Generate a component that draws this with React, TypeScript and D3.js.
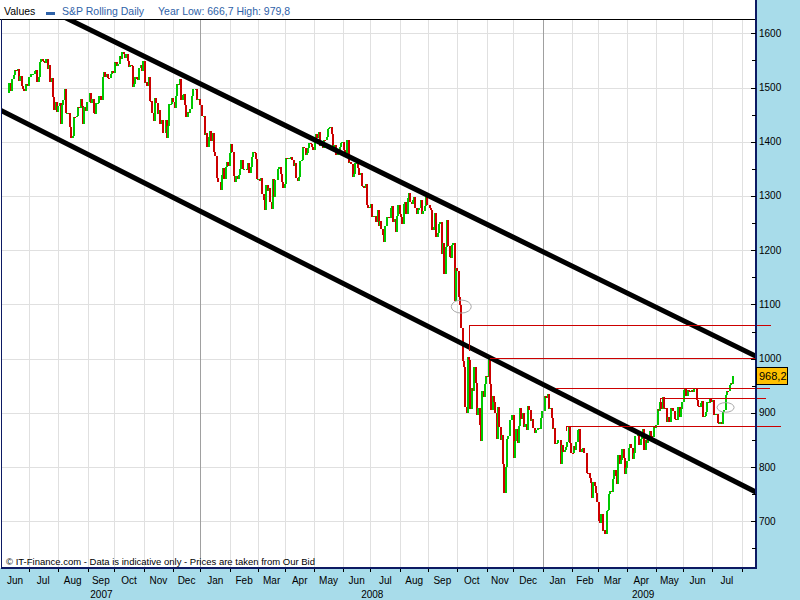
import React from 'react';
import * as d3 from 'd3';

// ---------- data ----------
const axisStart = '2007-06-01';
const axisEnd = '2009-09-30';
const firstClose = '2007-06-07';
const holidays = ['2007-07-04', '2007-09-03', '2007-11-22', '2007-12-25', '2008-01-01', '2008-01-21', '2008-02-18', '2008-03-21', '2008-05-26', '2008-07-04', '2008-09-01', '2008-11-27', '2008-12-25', '2009-01-01', '2009-01-19', '2009-02-16', '2009-04-10', '2009-05-25', '2009-07-03'];

const closes2007 = [
  1490.72, 1507.67, 1509.12, 1493.0, 1515.67, 1522.97, 1532.91, 1531.05, 1533.7, 1512.84, 1522.19, 1502.56, 1497.74, 1492.89, 1506.34, 1505.71, 1503.35,
  1519.43, 1524.87, 1525.4, 1530.44, 1531.85, 1510.12, 1518.76, 1547.7, 1552.5, 1549.52, 1549.37, 1546.17, 1553.08, 1534.1, 1541.57, 1511.04, 1518.09, 1482.66, 1458.95, 1473.91, 1455.27,
  1465.81, 1472.2, 1433.06, 1467.67, 1476.71, 1497.49, 1453.09, 1453.64, 1452.92, 1426.54, 1406.7, 1411.27, 1445.94, 1445.55, 1447.12, 1464.07, 1462.5, 1479.37, 1466.79, 1432.36, 1463.76, 1457.64, 1473.99,
  1489.42, 1472.29, 1478.55, 1453.55, 1451.7, 1471.49, 1471.56, 1483.95, 1484.25, 1476.65, 1519.78, 1529.03, 1518.75, 1525.75, 1517.73, 1517.21, 1525.42, 1531.38, 1526.75,
  1547.04, 1546.63, 1539.59, 1542.84, 1557.59, 1552.58, 1565.15, 1562.47, 1554.41, 1561.8, 1548.71, 1538.53, 1541.24, 1540.08, 1500.63, 1506.33, 1519.59, 1515.88, 1514.4, 1535.28, 1540.98, 1531.02, 1549.38,
  1508.44, 1509.65, 1502.17, 1520.27, 1475.62, 1474.77, 1453.7, 1439.18, 1481.05, 1470.58, 1451.15, 1458.74, 1433.27, 1439.7, 1416.77, 1440.7, 1407.22, 1428.23, 1469.02, 1469.72, 1481.14,
  1472.42, 1462.79, 1485.01, 1507.34, 1504.66, 1515.96, 1477.65, 1486.59, 1488.41, 1467.95, 1445.9, 1454.98, 1453.0, 1460.12, 1484.46, 1496.45, 1497.66, 1476.27, 1478.49, 1468.36,
];

const closes2008 = [
  1447.16, 1447.16, 1411.63, 1416.18, 1390.19, 1409.13, 1420.33, 1401.02, 1416.25, 1380.95, 1373.2, 1333.25, 1325.19, 1310.5, 1338.6, 1352.07, 1330.61, 1353.96, 1362.3, 1355.81, 1378.55,
  1395.42, 1380.82, 1336.64, 1326.45, 1336.91, 1331.29, 1339.13, 1348.86, 1367.21, 1348.86, 1349.99, 1348.78, 1360.03, 1342.53, 1353.11, 1371.8, 1381.29, 1380.02, 1367.68, 1330.63,
  1331.34, 1326.75, 1333.7, 1304.34, 1293.37, 1273.37, 1320.65, 1308.77, 1315.48, 1288.14, 1276.6, 1330.74, 1298.42, 1329.51, 1349.88, 1352.99, 1341.13, 1325.76, 1315.22, 1322.7,
  1370.18, 1367.53, 1369.31, 1370.4, 1372.54, 1365.54, 1354.49, 1360.55, 1332.83, 1328.32, 1334.43, 1364.71, 1365.56, 1390.33, 1388.17, 1375.94, 1379.93, 1388.82, 1397.84, 1396.37, 1390.94, 1385.59,
  1409.34, 1413.9, 1407.49, 1418.26, 1392.57, 1397.68, 1388.28, 1403.58, 1403.04, 1408.66, 1423.57, 1425.35, 1426.63, 1413.4, 1390.71, 1394.35, 1375.93, 1385.35, 1390.84, 1398.26, 1400.38,
  1385.67, 1377.65, 1377.2, 1404.05, 1360.68, 1361.76, 1358.44, 1335.49, 1339.87, 1360.03, 1360.14, 1350.93, 1337.81, 1342.83, 1317.93, 1318.0, 1314.29, 1321.97, 1283.15, 1278.38, 1280.0,
  1284.91, 1261.52, 1262.9, 1252.31, 1273.7, 1244.69, 1253.39, 1239.49, 1228.3, 1214.91, 1245.36, 1260.32, 1260.68, 1260.0, 1277.0, 1282.19, 1252.54, 1257.76, 1234.37, 1263.2, 1284.26, 1267.38,
  1260.31, 1249.01, 1284.88, 1289.19, 1266.07, 1296.32, 1305.32, 1289.59, 1285.83, 1292.93, 1298.2, 1278.6, 1266.69, 1274.54, 1277.72, 1292.2, 1266.84, 1271.51, 1281.66, 1300.68, 1282.83,
  1277.58, 1274.98, 1236.83, 1242.31, 1267.79, 1224.51, 1232.04, 1249.05, 1251.7, 1192.7, 1213.6, 1156.39, 1206.51, 1255.08, 1207.09, 1188.22, 1185.87, 1209.18, 1213.27, 1106.42, 1166.36,
  1161.06, 1114.28, 1099.23, 1056.89, 996.23, 984.94, 909.92, 899.22, 1003.35, 998.01, 907.84, 946.43, 940.55, 985.4, 955.05, 896.78, 908.11, 876.77, 848.92, 940.51, 930.09, 954.09, 968.75,
  966.3, 1005.75, 952.77, 904.88, 930.99, 919.21, 898.95, 852.3, 911.29, 873.29, 850.75, 859.12, 806.58, 752.44, 800.03, 851.81, 857.39, 887.68, 896.24,
  816.21, 848.81, 870.74, 845.22, 876.07, 909.7, 888.67, 899.24, 873.59, 879.73, 868.57, 913.18, 904.42, 885.28, 887.88, 871.63, 863.16, 868.15, 872.8, 869.42, 890.64, 903.25,
];

const closes2009 = [
  931.8, 927.45, 934.7, 906.65, 909.73, 890.35, 870.26, 871.79, 842.62, 843.74, 850.12, 805.22, 840.24, 827.5, 831.95, 836.57, 845.71, 874.09, 845.14, 825.88,
  825.44, 838.51, 832.23, 845.85, 868.6, 869.89, 827.16, 833.74, 835.19, 826.84, 789.17, 788.42, 778.94, 770.05, 743.33, 773.14, 764.9, 752.83, 735.09,
  700.82, 696.33, 712.87, 682.55, 683.38, 676.53, 719.6, 721.36, 750.74, 756.55, 753.89, 778.12, 794.35, 784.04, 768.54, 822.92, 806.12, 813.88, 832.86, 815.94, 787.53, 797.87,
  811.08, 834.38, 842.5, 835.48, 815.55, 825.16, 856.56, 858.73, 841.5, 852.06, 865.3, 869.6, 832.39, 850.08, 843.55, 851.92, 866.23, 857.51, 855.16, 873.64, 872.81,
  877.52, 907.24, 903.8, 919.53, 907.39, 929.23, 909.24, 908.35, 883.92, 893.07, 882.88, 909.71, 908.13, 903.47, 888.33, 887.0, 910.33, 893.06, 906.83, 919.14,
  942.87, 944.74, 931.76, 942.46, 940.09, 939.14, 942.43, 939.15, 944.89, 946.21, 923.72, 911.97, 910.71, 918.37, 921.23, 893.04, 895.1, 900.94, 920.26, 918.9, 927.23, 919.32,
  923.33, 896.42, 898.72, 881.03, 879.56, 882.68, 879.13, 901.05, 905.84, 932.68, 940.74, 940.38, 951.13, 954.58, 954.07, 968.2,
];

const yTicks = [700, 800, 900, 1000, 1100, 1200, 1300, 1400, 1500, 1600];
const yMinorTicks = [650, 750, 850, 950, 1050, 1150, 1250, 1350, 1450, 1550];
const monthNames = ['Jan', 'Feb', 'Mar', 'Apr', 'May', 'Jun', 'Jul', 'Aug', 'Sep', 'Oct', 'Nov', 'Dec'];

const upperChannel: [string, number][] = [['2007-07-02', 1661.3], ['2009-08-17', 1004.8]];
const lowerChannel: [string, number][] = [['2007-06-01', 1456.7], ['2009-08-17', 754]];
const levelStarts = ['2008-10-14', '2008-11-04', '2009-01-14', '2009-05-06', '2009-01-26'];
const levelEnds = ['2009-09-02', '2009-08-17', '2009-09-01', '2009-08-27', '2009-09-11'];
const levelValues = [1062, 1002, 945, 927, 875];
const levelStubs = [1016, 1002, 945, 921, 868];
const markerDates = ['2008-10-06', '2009-07-15'];
const markerValues = [1096, 910];
const markerRadii: [number, number][] = [[10, 6.5], [8.5, 4.8]];
const yearLow = 666.7;
const yearHigh = 979.8;

// ---------- layout ----------
const W = 800;
const H = 600;
const PL = 1;
const PR = 756;
const PT = 19;
const PB = 567;
const BG = '#a8dcea';
const NAVY = '#0c1a63';
const FONT = "'Liberation Sans', Arial, sans-serif";

const parse = d3.utcParse('%Y-%m-%d');
const fmtKey = d3.utcFormat('%Y-%m-%d');
const weekdays = d3.utcDay
  .range(parse(axisStart)!, d3.utcDay.offset(parse(axisEnd)!, 1))
  .filter((d) => d.getUTCDay() !== 0 && d.getUTCDay() !== 6);
const dayIndex = new Map(weekdays.map((d, i) => [fmtKey(d), i]));
const holidaySet = new Set(holidays);

const allCloses = [...closes2007, ...closes2008, ...closes2009];
const series: { i: number; open: number; close: number }[] = [];
{
  let k = 0;
  let prev = NaN;
  for (let i = dayIndex.get(firstClose)!; i < weekdays.length && k < allCloses.length; i++) {
    if (holidaySet.has(fmtKey(weekdays[i]))) continue;
    const c = allCloses[k++];
    if (!isNaN(prev)) series.push({ i, open: prev, close: c });
    prev = c;
  }
}

const x = d3.scaleLinear().domain([0, 577]).range([2, 757]);
const y = d3.scaleLinear().domain([615.7, 1626.4]).range([PB, PT]);
const xd = (s: string) => x(dayIndex.get(s)!);

// month boundaries
const monthStarts: { i: number; m: number; yr: number }[] = [];
weekdays.forEach((d, i) => {
  if (i === 0 || d.getUTCMonth() !== weekdays[i - 1].getUTCMonth()) {
    monthStarts.push({ i, m: d.getUTCMonth(), yr: d.getUTCFullYear() });
  }
});
const domainEnd = x.domain()[1];
const monthLabels = monthStarts
  .map((ms, k) => ({ ...ms, end: k + 1 < monthStarts.length ? monthStarts[k + 1].i : weekdays.length }))
  .filter((ms) => ms.end <= domainEnd);
const years = Array.from(new Set(monthLabels.map((m) => m.yr)));

const tickX = (i: number) => Math.round(x(i) - 0.65) + 0.5;
const commaFmt = d3.formatLocale({ decimal: ',', thousands: '.', grouping: [3], currency: ['', ''] }).format('.1f');

const line = d3
  .line<[string, number]>()
  .x((d) => xd(d[0]))
  .y((d) => y(d[1]));

export default function App() {
  const last = series[series.length - 1];
  return (
    <svg width={W} height={H} style={{ position: 'absolute', left: 0, top: 0 }} fontFamily={FONT}>
      <defs>
        <clipPath id="plotClip">
          <rect x={PL} y={PT} width={PR - PL} height={PB - PT} />
        </clipPath>
      </defs>
      <rect x={0} y={0} width={W} height={H} fill={BG} />
      <rect x={0} y={0} width={PR} height={PB + 1} fill="#fff" />

      {/* horizontal grid */}
      {yTicks.map((t) => (
        <line key={'hg' + t} x1={PL} x2={PR} y1={Math.round(y(t)) + 0.5} y2={Math.round(y(t)) + 0.5} stroke="#e0e0e0" />
      ))}
      {/* vertical grid */}
      {monthStarts
        .filter((m) => m.i > 0 && x(m.i) < PR)
        .map((m) => (
          <line key={'vg' + m.i} x1={tickX(m.i)} x2={tickX(m.i)} y1={PT} y2={PB} stroke={m.m === 0 ? '#a0a0a0' : '#e0e0e0'} />
        ))}

      {/* bars */}
      <g clipPath="url(#plotClip)" shapeRendering="crispEdges">
        {series.map((d) => {
          const hi = Math.max(d.open, d.close);
          const lo = Math.min(d.open, d.close);
          const y0 = y(hi);
          const h = Math.max(1, y(lo) - y0);
          return (
            <rect key={d.i} x={Math.round(x(d.i)) - 1} y={y0} width={2} height={h} fill={d.close >= d.open ? '#00c800' : '#cc0000'} />
          );
        })}
      </g>

      {/* channel lines */}
      <g clipPath="url(#plotClip)">
        <path d={line(upperChannel)!} stroke="#000" strokeWidth={5} strokeLinecap="square" fill="none" />
        <path d={line(lowerChannel)!} stroke="#000" strokeWidth={5} strokeLinecap="square" fill="none" />
      </g>

      {/* level lines */}
      <g shapeRendering="crispEdges">
        {levelValues.map((v, k) => {
          const xs = Math.round(xd(levelStarts[k])) + 0.5;
          const xe = Math.round(xd(levelEnds[k]));
          const yv = Math.round(y(v)) + 0.5;
          const ys = Math.round(y(levelStubs[k])) + 0.5;
          return (
            <path key={'lv' + k} d={`M${xs},${ys}L${xs},${yv}L${xe},${yv}`} stroke="#cc0000" strokeWidth={1} fill="none" />
          );
        })}
      </g>

      {/* markers */}
      {markerDates.map((d, k) => (
        <ellipse key={'mk' + k} cx={xd(d)} cy={y(markerValues[k])} rx={markerRadii[k][0]} ry={markerRadii[k][1]} fill="none" stroke="#a8a8a8" strokeWidth={1} />
      ))}

      {/* header */}
      <line x1={0} x2={PR} y1={PT + 0.5} y2={PT + 0.5} stroke="#000" />
      <text x={4} y={15} fontSize={10.5} fill="#000">Values</text>
      <rect x={46} y={12} width={9} height={3} fill="#2f62a8" />
      <text x={62} y={15} fontSize={10.5} fill="#2f62a8">S&amp;P Rolling Daily</text>
      <text x={158} y={15} fontSize={10.5} fill="#2f62a8">
        {`Year Low: ${commaFmt(yearLow)} High: ${commaFmt(yearHigh)}`}
      </text>

      {/* footer text */}
      <text x={6} y={565} fontSize={9.5} fill="#000">© IT-Finance.com - Data is indicative only - Prices are taken from Our Bid</text>

      {/* borders */}
      <line x1={PL + 0.5} x2={PL + 0.5} y1={PT} y2={PB + 1} stroke={NAVY} />
      <line x1={PL} x2={PR + 1} y1={PB + 1} y2={PB + 1} stroke={NAVY} strokeWidth={2} />
      <line x1={PR} x2={PR} y1={0} y2={PB + 2} stroke={NAVY} strokeWidth={2} />

      {/* right axis */}
      {yTicks.map((t) => (
        <g key={'yt' + t}>
          <line x1={PR - 5} x2={PR} y1={Math.round(y(t)) + 0.5} y2={Math.round(y(t)) + 0.5} stroke="#000" />
          <text x={759} y={y(t) + 3.5} fontSize={10} fill="#000">{t}</text>
        </g>
      ))}
      {yMinorTicks.map((t) => (
        <line key={'ym' + t} x1={PR - 4} x2={PR} y1={Math.round(y(t)) + 0.5} y2={Math.round(y(t)) + 0.5} stroke="#000" />
      ))}

      {/* bottom axis */}
      {monthStarts
        .filter((m) => m.i > 0 && x(m.i) < PR)
        .map((m) => (
          <line key={'xt' + m.i} x1={tickX(m.i)} x2={tickX(m.i)} y1={PB + 2} y2={PB + 5} stroke="#000" />
        ))}
      {monthLabels.map((m) => (
        <text key={'ml' + m.i} x={(x(m.i) + x(m.end)) / 2 - 0.6} y={584} fontSize={10} textAnchor="middle" fill="#000">
          {monthNames[m.m]}
        </text>
      ))}
      {years.map((yr) => {
        const ms = monthLabels.filter((m) => m.yr === yr);
        const x0 = x(ms[0].i);
        const x1 = x(ms[ms.length - 1].end);
        return (
          <text key={'yr' + yr} x={(x0 + x1) / 2} y={598} fontSize={10} textAnchor="middle" fill="#000">
            {yr}
          </text>
        );
      })}

      {/* last price box */}
      <rect x={756.5} y={Math.round(y(last.close)) - 8.5} width={31} height={17} fill="#ffc000" stroke="#000" />
      <text x={759} y={y(last.close) + 4} fontSize={11} fill="#000">{commaFmt(last.close)}</text>
    </svg>
  );
}
